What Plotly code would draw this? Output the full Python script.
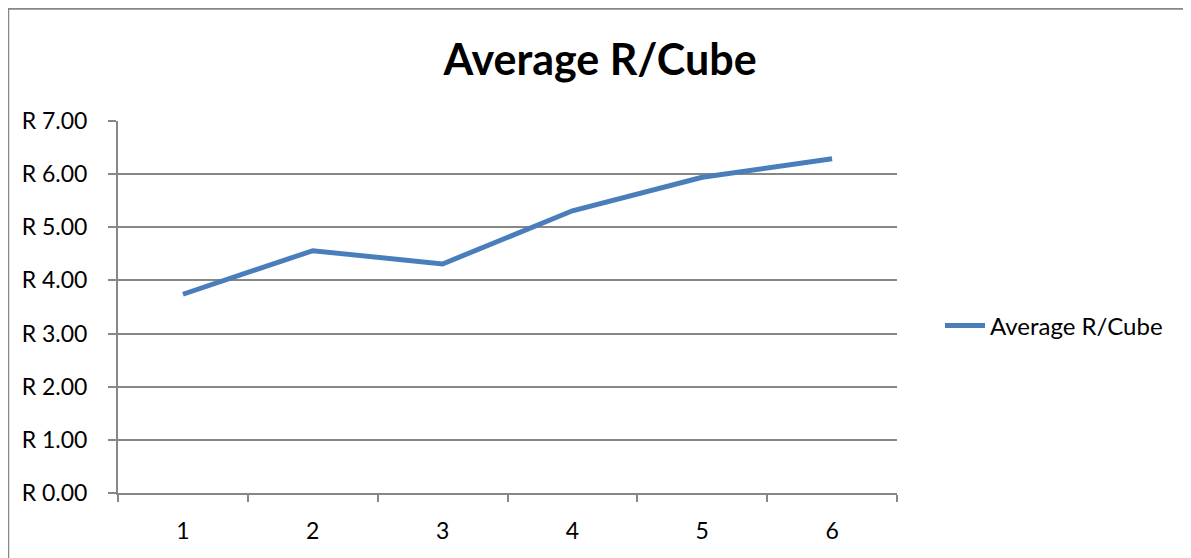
import plotly.graph_objects as go

categories = ["1", "2", "3", "4", "5", "6"]
avg_r_per_cube = [3.74, 4.56, 4.31, 5.31, 5.94, 6.29]
y_tickvals = [0, 1, 2, 3, 4, 5, 6, 7]
y_ticktext = ["R 0.00", "R 1.00", "R 2.00", "R 3.00", "R 4.00", "R 5.00", "R 6.00", "R 7.00"]

OFF = 8  # page body margin
W, H = 1191, 558
L, R, T, B = 118 - OFF, 294 + OFF, 121 - OFF, 65 + OFF
pw, ph = W - L - R, H - T - B

def px_x(x):  # page px -> paper
    return (x - OFF - L) / pw

def px_y(y):
    return (H - B - (y - OFF)) / ph

FONT = "Lato"
AXIS_GRAY = "#878787"

fig = go.Figure()
fig.add_trace(go.Scatter(
    x=categories, y=avg_r_per_cube, mode="lines", name="Average R/Cube",
    line=dict(color="#4A7EBB", width=5),
))

fig.update_layout(
    width=W, height=H,
    margin=dict(l=L, r=R, t=T, b=B),
    paper_bgcolor="white", plot_bgcolor="white",
    font=dict(family=FONT, color="black", size=22),
    title=dict(text="<b>Average R/Cube</b>", x=(600 - OFF) / W, xanchor="center",
               y=(H - (60 - OFF)) / H, yanchor="middle",
               font=dict(family=FONT, size=43, color="black")),
    showlegend=True,
    legend=dict(x=px_x(940), xanchor="left", y=px_y(326), yanchor="middle",
                font=dict(family=FONT, size=24, color="black"),
                bgcolor="rgba(0,0,0,0)", itemwidth=40),
    xaxis=dict(type="category", range=[-0.5, 5.5], showgrid=False,
               showline=True, linecolor=AXIS_GRAY, linewidth=2,
               ticks="outside", tickson="boundaries", ticklen=7, tickwidth=1.5,
               tickcolor=AXIS_GRAY, ticklabelstandoff=16,
               tickfont=dict(family=FONT, size=23, color="black")),
    yaxis=dict(range=[0, 7], tickvals=y_tickvals, ticktext=y_ticktext,
               showgrid=True, gridcolor=AXIS_GRAY, gridwidth=1.5,
               showline=True, linecolor=AXIS_GRAY, linewidth=2,
               ticks="outside", ticklen=8, tickwidth=1.5, tickcolor=AXIS_GRAY,
               ticklabelstandoff=16, zeroline=False,
               tickfont=dict(family=FONT, size=23, color="black")),
)

# outer chart frame (left and top edges visible)
fig.add_shape(type="line", xref="paper", yref="paper",
              x0=px_x(8), x1=px_x(8), y0=px_y(8.5), y1=px_y(H + OFF),
              line=dict(color=AXIS_GRAY, width=2.5))
fig.add_shape(type="line", xref="paper", yref="paper",
              x0=px_x(8), x1=px_x(W + OFF), y0=px_y(8.5), y1=px_y(8.5),
              line=dict(color=AXIS_GRAY, width=2.5))

fig.write_html("out.html")
